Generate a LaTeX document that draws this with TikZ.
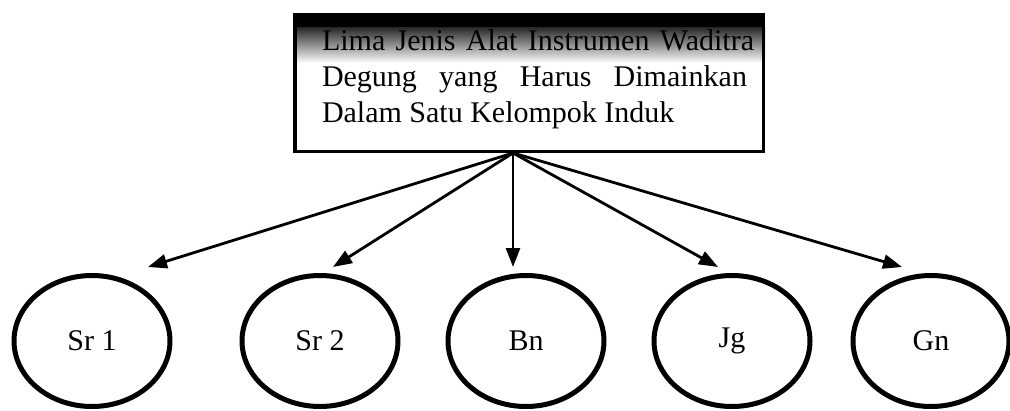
\documentclass[tikz,border=0pt]{standalone}
\usepackage{fontspec}
\setmainfont{Liberation Serif}
\usetikzlibrary{shapes.geometric,arrows.meta,backgrounds}

\newcommand{\spreadline}[2]{\makebox[#1][s]{#2}}

\begin{document}
\begin{tikzpicture}[x=1pt,y=-1pt,>={Triangle[length=19pt,width=14pt]}]
  \tikzstyle{title box}=[rectangle,draw,line width=3.5pt,inner sep=0pt,
  			 minimum width=468.5pt,minimum height=136.5pt,text depth=14pt,
  			 align=left,font=\fontsize{30}{36}\selectfont]
  \tikzstyle{instrument}=[ellipse,draw,line width=5pt,inner sep=0pt,
  			  minimum width=156pt,minimum height=131pt,
  			  font=\fontsize{30}{34}\selectfont]
  \tikzstyle{link}=[->,line width=2.8pt]
  \useasboundingbox (0,0) rectangle (1010,410);

  % heading box
  \node [title box] (head) at (529,83)
    {\hspace*{18pt}\spreadline{432pt}{Lima Jenis Alat Instrumen Waditra}\\
     \hspace*{18pt}\spreadline{425pt}{Degung yang Harus Dimainkan}\\
     \hspace*{18pt}Dalam Satu Kelompok Induk};
  \begin{scope}[on background layer]
    \fill [black] (head.north west) rectangle ([yshift=-14pt]head.north east);
    \shade [top color=black!85,bottom color=black!5]
      ([yshift=-14pt]head.north west) rectangle ([yshift=-48pt]head.north east);
  \end{scope}
  \coordinate (hub) at ([xshift=-16pt]head.south);

  % the five instruments
  \node [instrument] (sr1) at (92,341)  {Sr 1};
  \node [instrument] (sr2) at (320,341) {Sr 2};
  \node [instrument] (bn)  at (526,341) {Bn};
  \node [instrument] (jg)  at (732,341) {Jg};
  \node [instrument] (gn)  at (931,341) {Gn};

  \draw [link] (hub) -- ([shift={(56,-6)}]sr1.north);
  \draw [link] (hub) -- ([shift={(13,-6)}]sr2.north);
  \draw [link] (hub) -- ([shift={(-13,-6)}]bn.north);
  \draw [link] (hub) -- ([shift={(-14,-6)}]jg.north);
  \draw [link] (hub) -- ([shift={(-29,-6)}]gn.north);
\end{tikzpicture}
\end{document}
